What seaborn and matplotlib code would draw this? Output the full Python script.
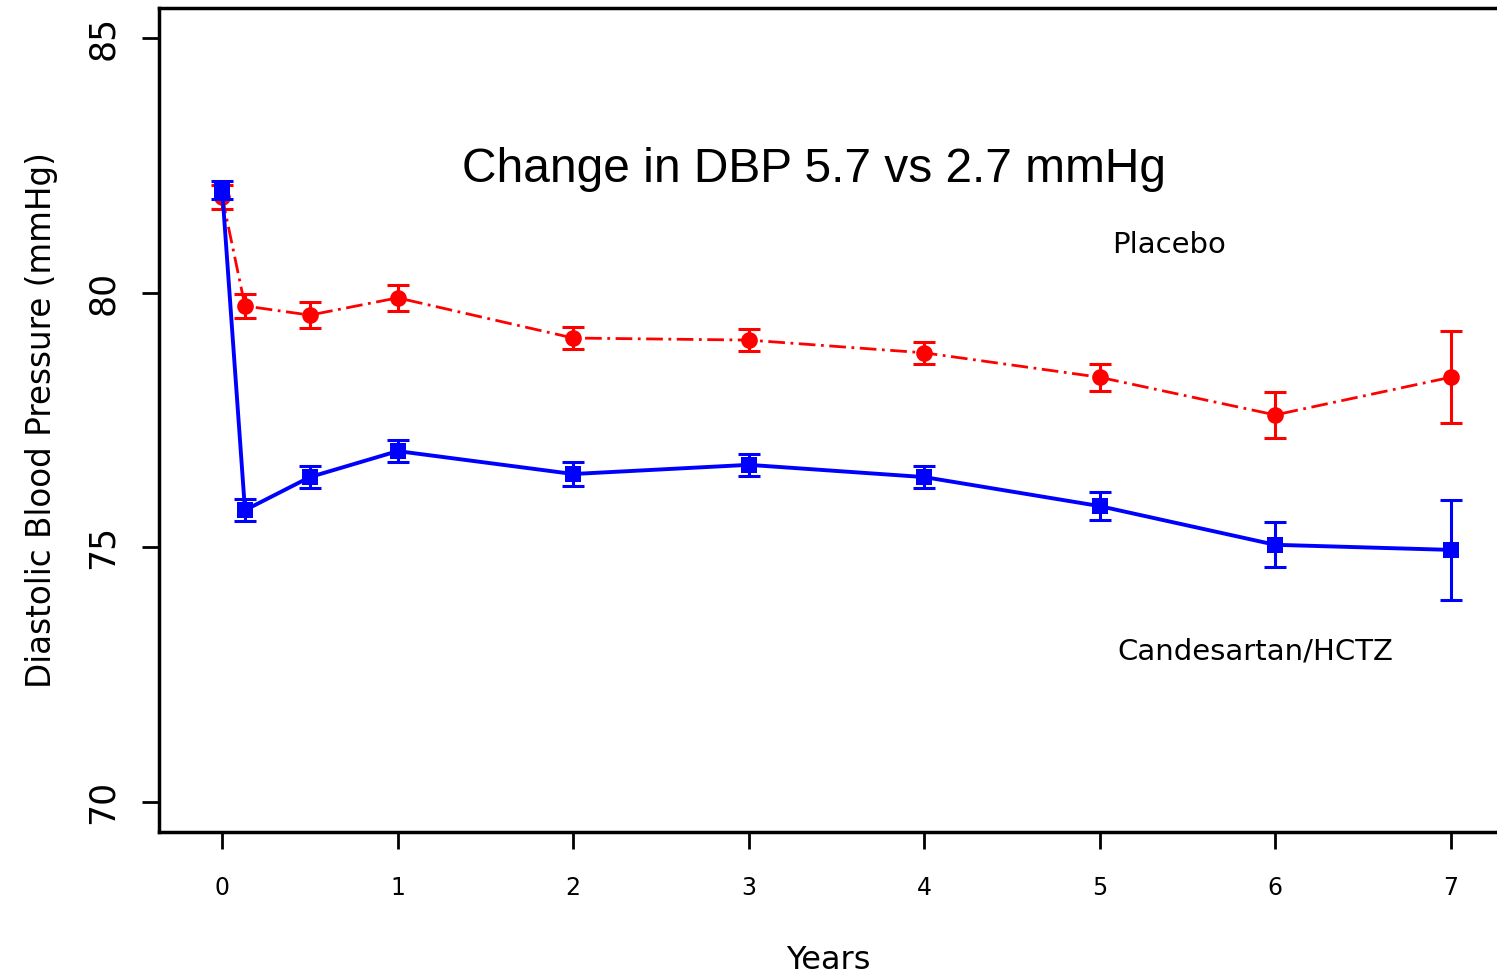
import seaborn as sns
import matplotlib.pyplot as plt
import pandas as pd

# data
years = [0, 0.13, 0.5, 1, 2, 3, 4, 5, 6, 7]
placebo_mean = [81.88, 79.74, 79.56, 79.90, 79.11, 79.07, 78.82, 78.34, 77.60, 78.34]
placebo_err = [0.24, 0.24, 0.25, 0.25, 0.21, 0.22, 0.22, 0.27, 0.45, 0.90]
cand_mean = [82.02, 75.73, 76.38, 76.89, 76.44, 76.62, 76.38, 75.81, 75.05, 74.95]
cand_err = [0.18, 0.21, 0.22, 0.21, 0.24, 0.21, 0.22, 0.27, 0.44, 0.98]
x_ticks = [0, 1, 2, 3, 4, 5, 6, 7]
y_ticks = [70, 75, 80, 85]

df = pd.DataFrame({
    "Years": years * 2,
    "DBP": placebo_mean + cand_mean,
    "err": placebo_err + cand_err,
    "group": ["Placebo"] * len(years) + ["Candesartan/HCTZ"] * len(years),
})

sns.set_style("white")
plt.rcParams["font.family"] = ["DejaVu Sans"]
plt.rcParams["text.color"] = "black"
plt.rcParams["axes.labelcolor"] = "black"
plt.rcParams["xtick.color"] = "black"
plt.rcParams["ytick.color"] = "black"

fig = plt.figure(figsize=(14.97, 9.80), dpi=100)
ax = fig.add_axes([0.1062, 0.151, 0.8945, 0.8408])

colors = {"Placebo": "#ff0000", "Candesartan/HCTZ": "#0000ff"}
styles = {"Placebo": (0, (6, 2, 1, 2)), "Candesartan/HCTZ": "-"}
markers = {"Placebo": "o", "Candesartan/HCTZ": "s"}
widths = {"Placebo": 2.0, "Candesartan/HCTZ": 2.8}

for grp, sub in df.groupby("group", sort=False):
    sns.lineplot(data=sub, x="Years", y="DBP", ax=ax, color=colors[grp],
                 linestyle=styles[grp], linewidth=widths[grp],
                 marker=markers[grp], markersize=12, markeredgewidth=0,
                 errorbar=None, legend=False)
    ax.errorbar(sub["Years"], sub["DBP"], yerr=sub["err"], fmt="none",
                ecolor=colors[grp], elinewidth=2.2, capsize=8, capthick=2.2)

ax.set_xlim(-0.36, 7.27)
ax.set_ylim(69.41, 85.59)
ax.set_xticks(x_ticks)
ax.set_yticks(y_ticks)
ax.set_xticklabels([str(t) for t in x_ticks], fontsize=17)
ax.set_yticklabels([str(t) for t in y_ticks], fontsize=25, rotation=90, va="center")
ax.tick_params(axis="x", direction="out", length=12, width=2, pad=20, bottom=True)
ax.tick_params(axis="y", direction="out", length=12, width=2, pad=16, left=True)

for s in ax.spines.values():
    s.set_linewidth(2.5)
    s.set_color("black")

ax.set_xlabel("Years", fontsize=23, labelpad=32)
ax.set_ylabel("Diastolic Blood Pressure (mmHg)", fontsize=23.5, labelpad=20)

ax.text(3.37, 82.41, "Change in DBP 5.7 vs 2.7 mmHg", fontsize=34.5,
        family=["Liberation Sans", "DejaVu Sans"], ha="center", va="center")
ax.text(5.07, 80.94, "Placebo", fontsize=21, ha="left", va="center")
ax.text(5.10, 72.95, "Candesartan/HCTZ", fontsize=21, ha="left", va="center")

plt.savefig("out.png", dpi=100)
plt.close()
